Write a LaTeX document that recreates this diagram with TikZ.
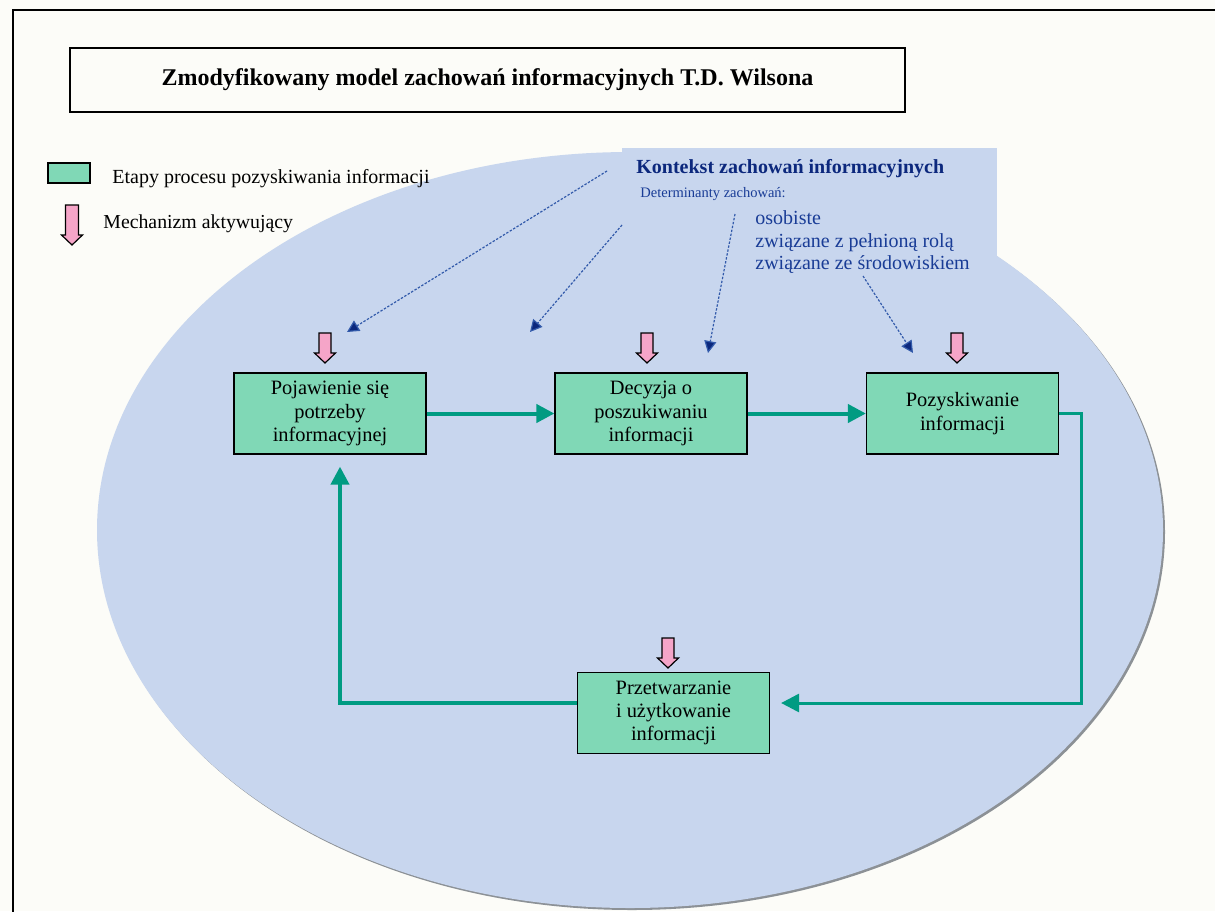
\documentclass[tikz,border=0pt]{standalone}
\usepackage{fontspec}
\setmainfont{Liberation Serif}
\usetikzlibrary{arrows.meta,calc}

\definecolor{paper}{RGB}{252,252,248}
\definecolor{ctxblue}{RGB}{200,214,238}
\definecolor{rimgray}{RGB}{140,145,150}
\definecolor{stagegreen}{RGB}{128,216,182}
\definecolor{flowteal}{RGB}{0,155,130}
\definecolor{mechpink}{RGB}{245,165,200}
\definecolor{headnavy}{RGB}{12,40,125}
\definecolor{textnavy}{RGB}{25,60,150}
\definecolor{linkblue}{RGB}{50,90,170}

\tikzset{
  stage/.style={draw=black, line width=0.6pt, fill=stagegreen, align=center,
    minimum width=96pt, minimum height=40.5pt, inner sep=0pt,
    font=\fontsize{10.2}{11.7}\selectfont},
  flow/.style={draw=flowteal, line width=2pt, -{Triangle[length=9pt,width=9pt]}},
  flowthin/.style={draw=flowteal, line width=1.5pt, -{Triangle[length=9pt,width=9pt]}},
  ctxarrow/.style={draw=linkblue, line width=0.6pt, dash pattern=on 1.2pt off 0.8pt,
    -{Triangle[length=6pt,width=6pt,fill=headnavy]}},
  plain/.style={inner sep=0pt, anchor=base west},
  mechline/.style={draw=black, line width=0.6pt, fill=mechpink},
  mech/.pic={\draw[mechline] (-6,0) -- (6,0) -- (6,20) -- (10.5,20) -- (0,30)
      -- (-10.5,20) -- (-6,20) -- cycle;},
  mechlegend/.pic={\draw[mechline] (-6.5,0) -- (6.5,0) -- (6.5,30) -- (10.5,30) -- (0,40)
      -- (-10.5,30) -- (-6.5,30) -- cycle;}
}

\begin{document}
\begin{tikzpicture}[x=0.5pt,y=-0.5pt]
\useasboundingbox (0,0) rectangle (1215,911);
\clip (0,0) rectangle (1215,911);
\fill[paper] (0,0) rectangle (1215,911);

% page frame
\draw[line width=1pt] (13,930) -- (13,10) -- (1230,10);

% title
\node[draw=black, line width=0.8pt, minimum width=417.5pt, minimum height=32pt,
      font=\fontsize{12}{14}\selectfont\bfseries] (title) at (487.5,80)
      {Zmodyfikowany model zachowań informacyjnych T.D. Wilsona};

% context ellipse with its soft rim
\fill[rimgray] (632,532) ellipse [x radius=533, y radius=378];
\fill[ctxblue] (630,530) ellipse [x radius=533, y radius=378];
\fill[ctxblue] (622,148) rectangle (997,300);

% legend
\node[draw=black, line width=0.6pt, fill=stagegreen, minimum width=21pt,
      minimum height=10pt, inner sep=0pt] (legbox) at (69,173) {};
\node[plain, font=\fontsize{10}{12}\selectfont] (legtext1) at (112,183)
      {Etapy procesu pozyskiwania informacji};
\pic (legmech) at (72,205) {mechlegend};
\node[plain, font=\fontsize{9.9}{12}\selectfont] (legtext2) at (103,228)
      {Mechanizm aktywujący};

% context of information behaviour
\node[plain, text=headnavy, font=\fontsize{10}{12}\selectfont\bfseries] (ctxhead) at (636,173)
      {Kontekst zachowań informacyjnych};
\node[plain, text=textnavy, font=\fontsize{7.25}{9}\selectfont] (ctxsub) at (640,197)
      {Determinanty zachowań:};
\node[plain, text=textnavy, font=\fontsize{10}{12}\selectfont] (ctx1) at (755,224) {osobiste};
\node[plain, text=textnavy, font=\fontsize{10}{12}\selectfont] (ctx2) at (755,247) {związane z pełnioną rolą};
\node[plain, text=textnavy, font=\fontsize{10}{12}\selectfont] (ctx3) at (755,269) {związane ze środowiskiem};

% stages
\node[stage] (b1) at (330,413.5) {Pojawienie się\\potrzeby\\informacyjnej};
\node[stage] (b2) at (651,413.5) {Decyzja o\\poszukiwaniu\\informacji};
\node[stage] (b3) at (962.5,413.5) {Pozyskiwanie\\informacji};
\node[stage] (b4) at (673.5,713) {Przetwarzanie\\i użytkowanie\\informacji};

% activating mechanisms
\pic (m1) at (325,333) {mech};
\pic (m2) at (647,333) {mech};
\pic (m3) at (957,333) {mech};
\pic (m4) at (668,638) {mech};

% context influences
\coordinate (s1) at (607,171);  \coordinate (t1) at (347,332);
\coordinate (s2) at (622,225);  \coordinate (t2) at (530,332);
\coordinate (s3) at (735,214);  \coordinate (t3) at (708,353);
\coordinate (s4) at (863,276);  \coordinate (t4) at (913,353);
\draw[ctxarrow] (s1) -- (t1);
\draw[ctxarrow] (s2) -- (t2);
\draw[ctxarrow] (s3) -- (t3);
\draw[ctxarrow] (s4) -- (t4);

% process cycle
\coordinate (r4) at ($(b4.east)+(0,-10)$);
\coordinate (l4) at ($(b4.west)+(0,-10)$);
\coordinate (u1) at ($(b1.south)+(10,0)$);
\draw[flow] (b1.east) -- (b2.west);
\draw[flow] (b2.east) -- (b3.west);
\draw[flowthin, shorten >=5.5pt] (b3.east) -- ++(22,0) |- (r4);
\draw[flow, shorten >=6pt] (l4) -| (u1);
\end{tikzpicture}
\end{document}
